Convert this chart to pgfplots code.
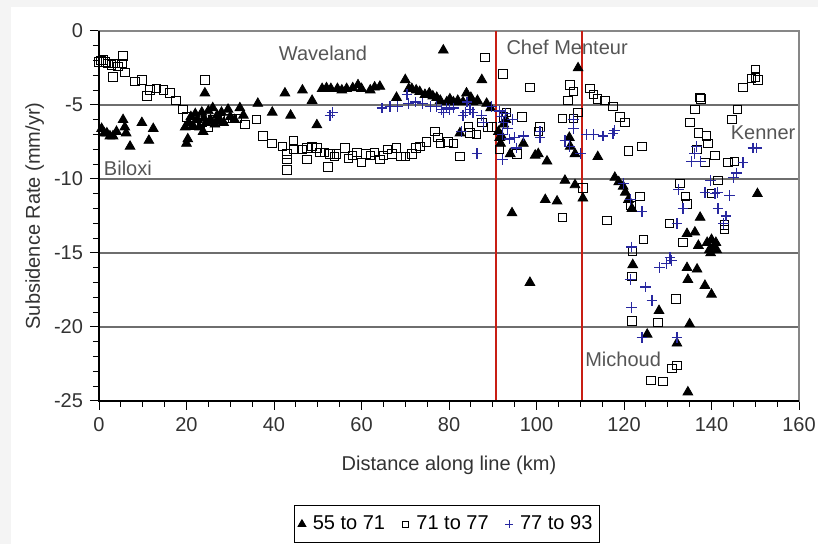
\documentclass[border=0pt]{standalone}
\usepackage{fontspec}
\setmainfont{Liberation Sans}
\usepackage{pgfplots}
\pgfplotsset{compat=1.18}

\definecolor{crossblue}{RGB}{40,40,160}
\definecolor{redline}{RGB}{200,30,20}
\definecolor{gridgray}{RGB}{110,110,110}
\definecolor{boxgray}{RGB}{135,135,135}
\definecolor{labelgray}{RGB}{85,85,85}
\definecolor{txtgray}{RGB}{50,50,50}
\definecolor{bggray}{RGB}{244,244,244}

\newcommand{\lbl}{\fontsize{10}{12}\selectfont}
\pgfplotsset{dotlegend/.style={legend image code/.code={\path[draw=none,fill=none] (0.04cm,0cm) -- (0.24cm,0cm); \draw[##1] plot coordinates {(0.12cm,0cm)};}}}

\begin{document}
\begin{tikzpicture}
\useasboundingbox (-49.5pt,-71.5pt) rectangle (359.5pt,200.5pt);
\fill[bggray] (-49.5pt,-71.5pt) rectangle (-44pt,200.5pt);
\fill[bggray] (-49.5pt,197pt) rectangle (359.5pt,200.5pt);
\begin{axis}[
  at={(0,0)}, anchor=south west,
  scale only axis, width=350pt, height=185pt,
  xmin=0, xmax=160, ymin=-25, ymax=0,
  clip=false,
  xtick={0,20,...,160}, minor x tick num=3,
  ytick={-25,-20,-15,-10,-5,0}, minor y tick num=4,
  yticklabels={-25,-20,-15,-10,-5,0},
  tick pos=left, tick align=outside,
  major tick length=4.5pt, minor tick length=3pt,
  tick style={black, line width=0.5pt},
  ymajorgrids, major grid style={gridgray, line width=0.6pt},
  axis line style={boxgray, line width=0.6pt},
  /pgf/number format/assume math mode=true,
  ticklabel style={font=\lbl, text=txtgray},
  xlabel={Distance along line (km)},
  ylabel={Subsidence Rate (mm/yr)},
  xlabel style={font=\lbl, text=txtgray, at={(axis description cs:0.5,-0.173)}, anchor=center},
  ylabel style={font=\lbl, text=txtgray, at={(axis description cs:-0.092,0.5)}, anchor=center},
  legend columns=3,
  legend style={at={(axis description cs:0.497,-0.333)}, anchor=center,
    draw=black, line width=0.6pt, font=\lbl, inner xsep=1.5pt, inner ysep=3pt,
    /tikz/every even column/.append style={column sep=6pt}},
]
% 55 to 71
\addplot[only marks, mark=triangle*, mark size=2.8pt, black, dotlegend,
  legend image post style={mark size=2.1pt}] coordinates {
 (0.6,-6.6) (1.2,-6.9) (1.8,-6.9) (2.5,-7.1) (3.2,-7.1) (4.0,-6.8) (5.5,-6.0) (5.9,-6.5)
 (6.2,-6.9) (7.1,-7.8) (9.8,-6.2) (11.4,-7.4) (12.4,-6.6) (19.7,-6.5) (20.0,-7.6) (20.3,-7.3)
 (20.5,-6.2) (21,-5.8) (21.5,-6.4) (22,-5.6) (22.5,-6.0) (23,-6.5) (23.5,-5.5) (23.8,-6.8)
 (24,-5.9) (24.5,-6.2) (25,-5.4) (25.5,-6.0) (26,-5.2) (26.5,-6.3) (27,-5.7) (27.5,-6.0)
 (28,-5.5) (28.5,-6.2) (29.5,-5.3) (30,-5.8) (31,-6.0) (32.2,-5.2) (33,-5.7) (24.2,-4.2)
 (36.3,-4.9) (39.6,-5.5) (43.8,-5.7) (42.5,-4.2) (46.5,-4.0) (48.7,-4.7) (49.8,-6.35)
 (51,-3.9) (52,-3.85) (53,-3.9) (54.5,-3.9) (55.5,-4.0) (56.6,-3.9) (58,-3.85) (59.2,-3.65)
 (60,-3.9) (62,-4.0) (63,-3.8) (64.2,-3.75) (68,-4.5) (70,-3.3) (70.8,-3.9) (71.5,-3.9)
 (72.5,-4.0) (73.3,-4.1) (74.5,-4.3) (75.5,-4.2) (76.3,-4.4) (77.2,-4.5) (78,-4.7) (78.7,-1.3)
 (79.5,-4.8) (80.2,-4.6) (81,-4.8) (82,-4.7) (83.2,-4.8) (84,-4.2) (85,-4.5) (85.5,-4.8)
 (86.5,-4.7) (87.5,-3.3) (88.6,-4.9) (89.5,-5.2) (82.5,-6.9)
 (91.3,-6.8) (91.6,-7.2) (92,-7.1) (91.8,-7.6) (92.5,-6.3) (93,-6.0) (94,-8.3) (97,-7.6)
 (99.7,-8.4) (100.4,-8.3) (102.4,-8.8) (107.7,-7.8) (108.8,-8.3) (107.5,-7.2) (109.5,-2.5)
 (114,-8.5) (106.5,-10.1) (108.8,-10.4) (110.6,-11.3) (102,-11.4) (104.7,-11.5) (94.4,-12.3)
 (98.5,-17.0)
 (117.9,-9.9) (118.8,-10.2) (119.8,-10.5) (120.3,-10.9) (121,-11.4) (121.8,-12) (122,-15.8)
 (125.3,-20.5) (128,-18.9) (132.1,-21.1) (134.6,-24.4) (135,-19.8) (134.4,-16) (136.7,-16.1)
 (134.6,-16.8) (138.5,-17.2) (140,-17.8) (137.4,-12.6) (134.4,-13.7) (136.2,-13.6) (137,-14.5)
 (139,-14.3) (139.5,-14.8) (140,-14.1) (140.5,-14.6) (141,-14.3) (141.2,-14.8) (139.8,-15.0)
 (150.5,-11.0)
};
\addlegendentry{55 to 71}
% 71 to 77
\addplot[only marks, mark=square, mark size=2.1pt, black, line width=0.5pt, dotlegend,
  legend image post style={mark size=1.5pt}] coordinates {
 (0,-2.1) (0.5,-2.0) (0.9,-1.96) (1.5,-2.1) (2.1,-2.2) (2.8,-2.3) (3.7,-2.2) (4.3,-2.4)
 (5.5,-1.7) (5.3,-2.2) (5.9,-2.8) (3.2,-3.1) (8.2,-3.4) (9.8,-3.3) (11,-4.4) (11.7,-4.0)
 (13.2,-3.9) (14.7,-4.0) (16.2,-4.2) (17.6,-4.7) (19.2,-5.3) (24.2,-3.3) (20,-5.8) (21.6,-6.4)
 (22.5,-5.9) (23.5,-6.2) (25,-6.5) (26,-6.0) (27.7,-6.0) (29,-5.9) (30.5,-5.9) (31.5,-5.9)
 (33.4,-6.3) (36,-6.0) (37.5,-7.1) (39.5,-7.6) (42,-7.8) (43,-8.3) (43,-8.7) (43,-9.4)
 (44.4,-7.4) (44.6,-8.0) (46.4,-8.0) (47.5,-8.7) (47.5,-7.9) (48.7,-7.8) (49.8,-7.9) (50.5,-8.2)
 (51.6,-8.2) (52.3,-9.2) (52.8,-8.3) (53.8,-8.5) (54.3,-8.3) (56.2,-7.9) (57,-8.6) (58,-8.4)
 (59,-8.2) (60,-8.9) (61,-8.3) (62,-8.4) (63,-8.2) (64.2,-8.7) (65,-8.4) (66,-8.0)
 (67,-8.3) (68,-7.9) (69,-8.5) (70,-8.5) (71.5,-8.3) (72.5,-7.9) (73.4,-7.8) (74.9,-7.5)
 (76.8,-6.8) (77.5,-7.2) (78,-7.6) (79.8,-7.5) (81,-7.6) (82.5,-8.5) (84.4,-6.5) (84.8,-6.9)
 (86.3,-7.0) (87.5,-6.2) (88.2,-1.8) (88.9,-6.5) (89.8,-6.5) (92.3,-2.9) (91.6,-8.0) (93.2,-5.5)
 (92.5,-5.8) (96.7,-5.8) (95.5,-8.3) (98.5,-3.8) (100.8,-6.5) (100.5,-6.8) (106,-5.9) (107.2,-4.7)
 (107.7,-3.65) (108.4,-4.1) (109.5,-5.5) (108.5,-5.9) (110.6,-10.6) (106,-12.6) (112.2,-3.9) (113,-4.3)
 (114,-4.6) (115.7,-4.7) (117.5,-5.1) (119.1,-5.8) (120.2,-6.2) (121,-8.1) (124.1,-7.8) (116.1,-12.8)
 (123.7,-11.2) (121.6,-11.8) (122,-14.9) (121.8,-16.6) (124.4,-14.1) (130.4,-13) (132.8,-10.3) (134,-11.2)
 (134.4,-11.7) (133.5,-14.3) (131.9,-18.1) (121.8,-19.6) (127.8,-19.7) (132.1,-22.6) (131,-22.8) (126.2,-23.6)
 (128.9,-23.7) (140,-11) (141.5,-10.1) (143,-13.1) (143,-13.4) (136.2,-5.3) (135.1,-6.2) (137,-6.9)
 (138.9,-7.1) (139.2,-7.6) (136.7,-8.0) (138.5,-8.9) (140.8,-8.4) (143.8,-8.9) (145.3,-8.8) (146,-5.3)
 (144.7,-6.0) (137.4,-4.5) (137.6,-4.6) (147.2,-3.8) (149.2,-3.2) (150,-3.1) (150,-2.6) (150.6,-3.3)
};
\addlegendentry{71 to 77}
% 77 to 93
\addplot[only marks, mark=+, mark size=2.7pt, crossblue, line width=0.6pt, dotlegend,
  legend image post style={mark size=2pt}] coordinates {
 (52.8,-5.7) (53.3,-5.5) (64.7,-5.2) (66.5,-5.1) (68.2,-5.1) (70.4,-4.3) (70.7,-4.9) (72.4,-4.8)
 (73.9,-4.9) (75.7,-5.1) (77.2,-5.1) (78.3,-5.3) (78.7,-5.5) (79.5,-5.2) (80.2,-5.3) (81,-5.2)
 (83.2,-5.7) (83.7,-5.5) (84.1,-4.8) (84.8,-5.3) (85.5,-5.5) (87.5,-5.7) (87.8,-6.2) (89.8,-5.1)
 (82.9,-6.8) (86.4,-8.3) (91.5,-5.4) (92,-5.8) (92.5,-6.2) (93,-5.6) (93.3,-6.6) (92.2,-7.0)
 (93.8,-7.3) (94.6,-6.0) (95,-7.2) (97,-7.1) (95.5,-7.9) (92.3,-8.7) (100.8,-7.2) (100.8,-6.8)
 (106.5,-7.4) (107.5,-7.8) (108.4,-6.0) (108.4,-6.6) (110,-8.3) (111.5,-7.0) (113,-7.0) (115.2,-7.1)
 (117.5,-6.9) (117.9,-6.7) (119.8,-10.3) (121.4,-11.4) (124.1,-12.2) (121.7,-14.6) (121.4,-16.8) (125,-17.3)
 (126.4,-18.2) (121.8,-18.7) (124.1,-20.7) (132.1,-20.7) (128.2,-16) (129.8,-15.7) (130.9,-15.5) (130.5,-15.3)
 (132.1,-13) (133.5,-12) (132.4,-10.7) (136.6,-7.8) (136.2,-8.3) (135.4,-8.8) (137.4,-8.8) (139.8,-10.1)
 (138.5,-10.9) (140.8,-11) (141.3,-10.9) (144.2,-11.1) (141.5,-12) (143.3,-12.5) (142.7,-13) (145,-9.9)
 (145.8,-9.6) (147.2,-8.9) (149.5,-7.9) (150.3,-7.9)
};
\addlegendentry{77 to 93}
% fault lines
\addplot[redline, line width=1pt, forget plot] coordinates {(90.7,-25) (90.7,0)};
\addplot[redline, line width=1pt, forget plot] coordinates {(110.4,-25) (110.4,0)};
% place names
\node[labelgray, font=\lbl] at (axis cs:51.2,-1.5) {Waveland};
\node[labelgray, font=\lbl] at (axis cs:107,-1.1) {Chef Menteur};
\node[labelgray, font=\lbl] at (axis cs:6.6,-9.3) {Biloxi};
\node[labelgray, font=\lbl] at (axis cs:151.8,-6.9) {Kenner};
\node[labelgray, font=\lbl] at (axis cs:119.8,-22.2) {Michoud};
% black left and bottom axes
\draw[black, line width=0.6pt] (rel axis cs:0,1) -- (rel axis cs:0,0) -- (rel axis cs:1,0);
\end{axis}
\end{tikzpicture}
\end{document}
